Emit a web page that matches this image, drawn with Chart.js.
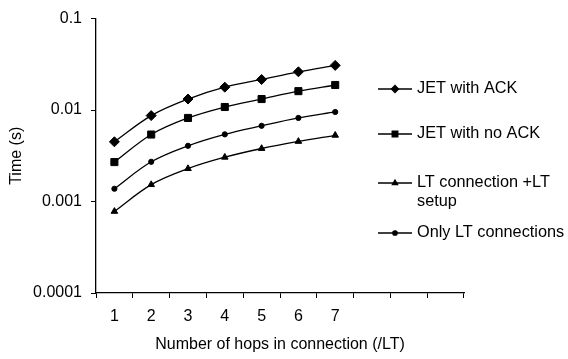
<!DOCTYPE html>
<html>
<head>
<meta charset="utf-8">
<script src="https://cdn.jsdelivr.net/npm/chart.js@4/dist/chart.umd.min.js"></script>
<style>
  html, body { margin: 0; padding: 0; background: #fff; }
  #wrap { width: 568px; height: 359px; position: relative; }
</style>
</head>
<body>
<div id="wrap"><canvas id="chart"></canvas></div>
<script>
// hops 1..7, the axis leaves room for 3 more empty slots like the original
const hopLabels = ["1", "2", "3", "4", "5", "6", "7", "", "", ""];
const yTickValues = [0.0001, 0.001, 0.01, 0.1];
const yTickLabels = ["0.0001", "0.001", "0.01", "0.1"];

const jetAck   = [0.0045, 0.0087, 0.0132, 0.0178, 0.0216, 0.0262, 0.0308];
const jetNoAck = [0.0027, 0.0054, 0.0082, 0.0108, 0.0132, 0.0161, 0.0188];
const ltSetup  = [0.00078, 0.00153, 0.00229, 0.00305, 0.0038, 0.00454, 0.0053];
const ltOnly   = [0.00138, 0.00272, 0.00407, 0.00543, 0.00673, 0.0082, 0.00953];

const seriesNames = ["JET with ACK", "JET with no ACK", "LT connection +LT setup", "Only LT connections"];

Chart.defaults.font.family = 'Arial, "Liberation Sans", sans-serif';
Chart.defaults.font.size = 16;
Chart.defaults.color = "#000";

function series(label, data, style, radius) {
  return {
    label,
    data,
    borderColor: "#000",
    backgroundColor: "#000",
    borderWidth: 1.3,
    pointStyle: style,
    pointRadius: radius,
    pointBorderWidth: 1,
    tension: 0.35,
    fill: false,
  };
}

// legend on the right, drawn by hand so the long name can wrap
const legendLines = [
  { y: 89, text: ["JET with ACK"], r: 3.5 },
  { y: 134, text: ["JET with no ACK"], r: 4 },
  { y: 183, text: ["LT connection +LT", "setup"], r: 3 },
  { y: 233, text: ["Only LT connections"], r: 2.2 },
];

const sideLegend = {
  id: "sideLegend",
  afterDraw(chart) {
    const ctx = chart.ctx;
    ctx.save();
    chart.data.datasets.forEach((ds, i) => {
      const item = legendLines[i];
      ctx.strokeStyle = "#000";
      ctx.lineWidth = 1.3;
      ctx.beginPath();
      ctx.moveTo(378, item.y);
      ctx.lineTo(412, item.y);
      ctx.stroke();
      ctx.fillStyle = "#000";
      Chart.helpers.drawPoint(ctx, {
        pointStyle: ds.pointStyle, radius: item.r, borderWidth: 1, rotation: 0,
      }, 395, item.y);
      ctx.fill();
      ctx.font = '16.3px Arial, "Liberation Sans", sans-serif';
      ctx.textBaseline = "middle";
      ctx.textAlign = "left";
      item.text.forEach((t, k) => ctx.fillText(t, 417, item.y + k * 18.5));
    });
    ctx.restore();
  },
};

new Chart(document.getElementById("chart"), {
  type: "line",
  data: {
    labels: hopLabels,
    datasets: [
      series(seriesNames[0], jetAck, "rectRot", 5),
      series(seriesNames[1], jetNoAck, "rect", 5),
      series(seriesNames[2], ltSetup, "triangle", 3.8),
      series(seriesNames[3], ltOnly, "circle", 2.6),
    ],
  },
  options: {
    responsive: true,
    maintainAspectRatio: false,
    animation: false,
    layout: { padding: { top: 13, right: 104, left: 0, bottom: 0 } },
    plugins: {
      legend: { display: false },
      tooltip: { enabled: false },
    },
    scales: {
      x: {
        type: "category",
        offset: true,
        grid: { offset: true, drawOnChartArea: false, tickLength: 5, color: "#000", tickColor: "#000" },
        border: { color: "#000", width: 1.3 },
        ticks: { padding: 9, maxRotation: 0, autoSkip: false },
        title: {
          display: true,
          text: "Number of hops in connection (/LT)",
          padding: { top: 0, bottom: 5 },
        },
        afterFit(scale) { scale.height = 66; },
      },
      y: {
        type: "logarithmic",
        min: 0.0001,
        max: 0.1,
        grid: { drawOnChartArea: false, tickLength: 5, color: "#000", tickColor: "#000" },
        border: { color: "#000", width: 1.3 },
        afterBuildTicks(scale) {
          scale.ticks = yTickValues.map((v) => ({ value: v }));
        },
        ticks: {
          padding: 9,
          callback: (v) => {
            const i = yTickValues.findIndex((t) => Math.abs(t - v) / t < 1e-6);
            return i >= 0 ? yTickLabels[i] : "";
          },
        },
        title: {
          display: true,
          text: "Time (s)",
          padding: { top: 7, bottom: 0 },
        },
        afterFit(scale) { scale.width = 96; },
      },
    },
  },
  plugins: [sideLegend],
});
</script>
</body>
</html>
